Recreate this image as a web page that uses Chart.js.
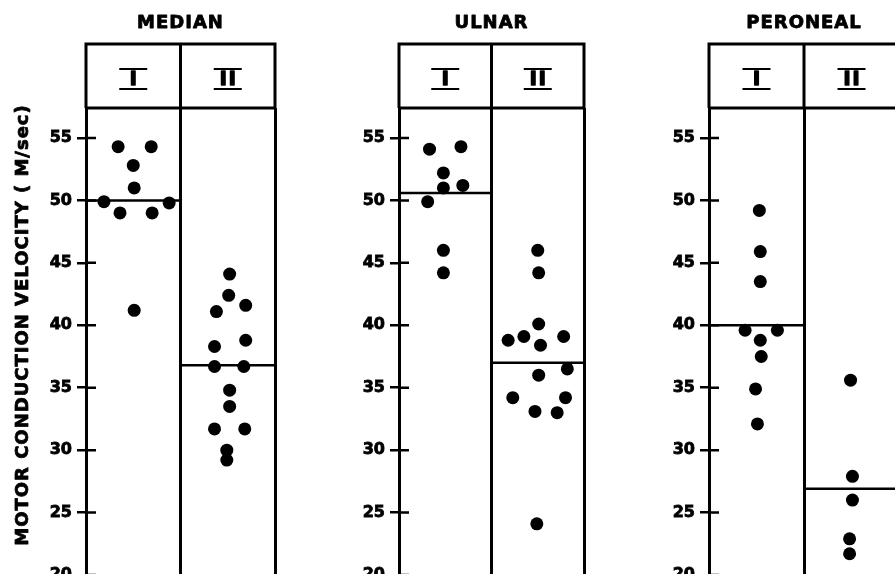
<!DOCTYPE html>
<html>
<head>
<meta charset="utf-8">
<script src="https://cdn.jsdelivr.net/npm/chart.js@4.4.0/dist/chart.umd.min.js"></script>
<style>
  html, body { margin: 0; padding: 0; background: #fff; overflow: hidden; width: 895px; height: 574px; }
  canvas { position: absolute; top: 0; }
</style>
</head>
<body>
<canvas id="c0" width="290" height="600" style="left:0px"></canvas>
<canvas id="c1" width="290" height="600" style="left:310px"></canvas>
<canvas id="c2" width="290" height="600" style="left:620px"></canvas>
<script>
const nerves = ['MEDIAN', 'ULNAR', 'PERONEAL'];
const groupLabels = ['I', 'II'];
const yTicks = [20, 25, 30, 35, 40, 45, 50, 55];
const yTitle = 'MOTOR CONDUCTION VELOCITY ( M/sec)';

// x = spot across the two columns (0..1 = group I, 1..2 = group II), y = M/sec
const medianIx = [0.34, 0.69, 0.50, 0.51, 0.19, 0.36, 0.70, 0.88, 0.51];
const medianIy = [54.3, 54.3, 52.8, 51.0, 49.9, 49.0, 49.0, 49.8, 41.2];
const medianIIx = [1.52, 1.51, 1.69, 1.38, 1.36, 1.69, 1.36, 1.67, 1.52, 1.52, 1.36, 1.68, 1.49, 1.49];
const medianIIy = [44.1, 42.4, 41.6, 41.1, 38.3, 38.8, 36.7, 36.7, 34.8, 33.5, 31.7, 31.7, 30.0, 29.2];
const medianMid = [50.0, 36.8];

const ulnarIx = [0.33, 0.67, 0.48, 0.48, 0.69, 0.31, 0.48, 0.48];
const ulnarIy = [54.1, 54.3, 52.2, 51.0, 51.2, 49.9, 46.0, 44.2];
const ulnarIIx = [1.50, 1.51, 1.51, 1.18, 1.35, 1.53, 1.78, 1.51, 1.82, 1.23, 1.80, 1.47, 1.71, 1.49];
const ulnarIIy = [46.0, 44.2, 40.1, 38.8, 39.1, 38.4, 39.1, 36.0, 36.5, 34.2, 34.2, 33.1, 33.0, 24.1];
const ulnarMid = [50.6, 37.0];

const peronealIx = [0.53, 0.54, 0.54, 0.38, 0.72, 0.54, 0.55, 0.49, 0.51];
const peronealIy = [49.2, 45.9, 43.5, 39.6, 39.6, 38.8, 37.5, 34.9, 32.1];
const peronealIIx = [1.49, 1.51, 1.51, 1.48, 1.48];
const peronealIIy = [35.6, 27.9, 26.0, 22.9, 21.7];
const peronealMid = [40.0, 26.9];

Chart.defaults.font.family = '"DejaVu Sans", sans-serif';
Chart.defaults.color = '#000';

const pts = (xs, ys) => xs.map((x, i) => ({ x: x, y: ys[i] }));

// heavy text: fill plus a thin stroke, the print is very black
function heavyText(ctx, txt, x, y, w) {
  ctx.lineWidth = w;
  ctx.lineJoin = 'round';
  ctx.strokeText(txt, x, y);
  ctx.fillText(txt, x, y);
}

// header box, roman numerals, titles, inner half of the tick marks
const headerPlugin = {
  id: 'header',
  afterDraw(chart, args, opts) {
    const { ctx, chartArea, scales: { x, y } } = chart;
    const top = chartArea.top - 64;
    const x0 = x.getPixelForValue(0), x2 = x.getPixelForValue(2);
    ctx.save();
    ctx.strokeStyle = '#000';
    ctx.lineWidth = 3;
    ctx.beginPath();
    ctx.moveTo(x0 - 1.5, top); ctx.lineTo(x2 + 1.5, top);
    ctx.moveTo(x0, chartArea.top); ctx.lineTo(x2, chartArea.top);
    [0, 1, 2].forEach(v => {
      const px = x.getPixelForValue(v);
      ctx.moveTo(px, top); ctx.lineTo(px, chartArea.top);
    });
    ctx.stroke();
    ctx.lineWidth = 2.5;
    ctx.beginPath();
    y.ticks.forEach(t => {
      const py = y.getPixelForValue(t.value);
      ctx.moveTo(x0, py); ctx.lineTo(x0 + 10, py);
    });
    ctx.stroke();

    ctx.fillStyle = '#000';
    ctx.textAlign = 'center';
    ctx.textBaseline = 'middle';
    ctx.font = 'bold 19px "DejaVu Sans"';
    groupLabels.forEach((g, i) => {
      const cx = x.getPixelForValue(i + 0.5);
      const cy = top + 35;
      ctx.letterSpacing = '2px';
      heavyText(ctx, g, cx + 1, cy + 1, 1.5);
      ctx.fillRect(cx - 14, cy - 11, 28, 2);
      ctx.fillRect(cx - 14, cy + 9, 28, 2);
    });

    ctx.font = 'bold 18px "DejaVu Sans"';
    ctx.letterSpacing = '1px';
    heavyText(ctx, opts.title, (x0 + x2) / 2, 23, 0.8);

    if (opts.yTitle) {
      ctx.translate(23, 325);
      ctx.rotate(-Math.PI / 2);
      heavyText(ctx, opts.yTitle, 0, 0, 0.8);
    }
    ctx.restore();
  }
};

function makePanel(id, idx, axisW, padRight, Ix, Iy, IIx, IIy, mid) {
  const dot = { type: 'scatter', pointRadius: 6.5, pointBackgroundColor: '#000', pointBorderWidth: 0 };
  const midLine = { type: 'line', borderColor: '#000', borderWidth: 2.5, pointRadius: 0, fill: false };
  new Chart(document.getElementById(id), {
    type: 'scatter',
    data: {
      datasets: [
        Object.assign({ data: pts(Ix, Iy) }, dot),
        Object.assign({ data: pts(IIx, IIy) }, dot),
        Object.assign({ data: [{ x: 0, y: mid[0] }, { x: 1, y: mid[0] }] }, midLine),
        Object.assign({ data: [{ x: 1, y: mid[1] }, { x: 2, y: mid[1] }] }, midLine)
      ]
    },
    options: {
      responsive: false,
      animation: false,
      events: [],
      layout: { padding: { top: 108, bottom: 25, left: 0, right: padRight } },
      plugins: {
        legend: { display: false },
        tooltip: { enabled: false },
        header: { title: nerves[idx], yTitle: idx === 0 ? yTitle : null }
      },
      scales: {
        x: {
          type: 'linear', min: 0, max: 2,
          afterBuildTicks: s => { s.ticks = [0, 1, 2].map(v => ({ value: v })); },
          ticks: { display: false },
          border: { display: false },
          grid: { color: '#000', lineWidth: 3, drawTicks: false }
        },
        y: {
          type: 'linear', min: 20, max: 57.4,
          afterBuildTicks: s => { s.ticks = yTicks.map(v => ({ value: v })); },
          afterFit: s => { s.width = axisW; },
          ticks: { font: { size: 16, weight: 'bold' }, padding: 5, textStrokeColor: '#000', textStrokeWidth: 0.8 },
          border: { display: true, color: '#000', width: 3 },
          grid: { drawOnChartArea: false, drawTicks: true, tickLength: 9, color: '#000', lineWidth: 2.5 }
        }
      }
    },
    plugins: [headerPlugin]
  });
}

makePanel('c0', 0, 86, 15, medianIx, medianIy, medianIIx, medianIIy, medianMid);
makePanel('c1', 1, 89, 16, ulnarIx, ulnarIy, ulnarIIx, ulnarIIy, ulnarMid);
makePanel('c2', 2, 89, 11, peronealIx, peronealIy, peronealIIx, peronealIIy, peronealMid);
</script>
</body>
</html>
